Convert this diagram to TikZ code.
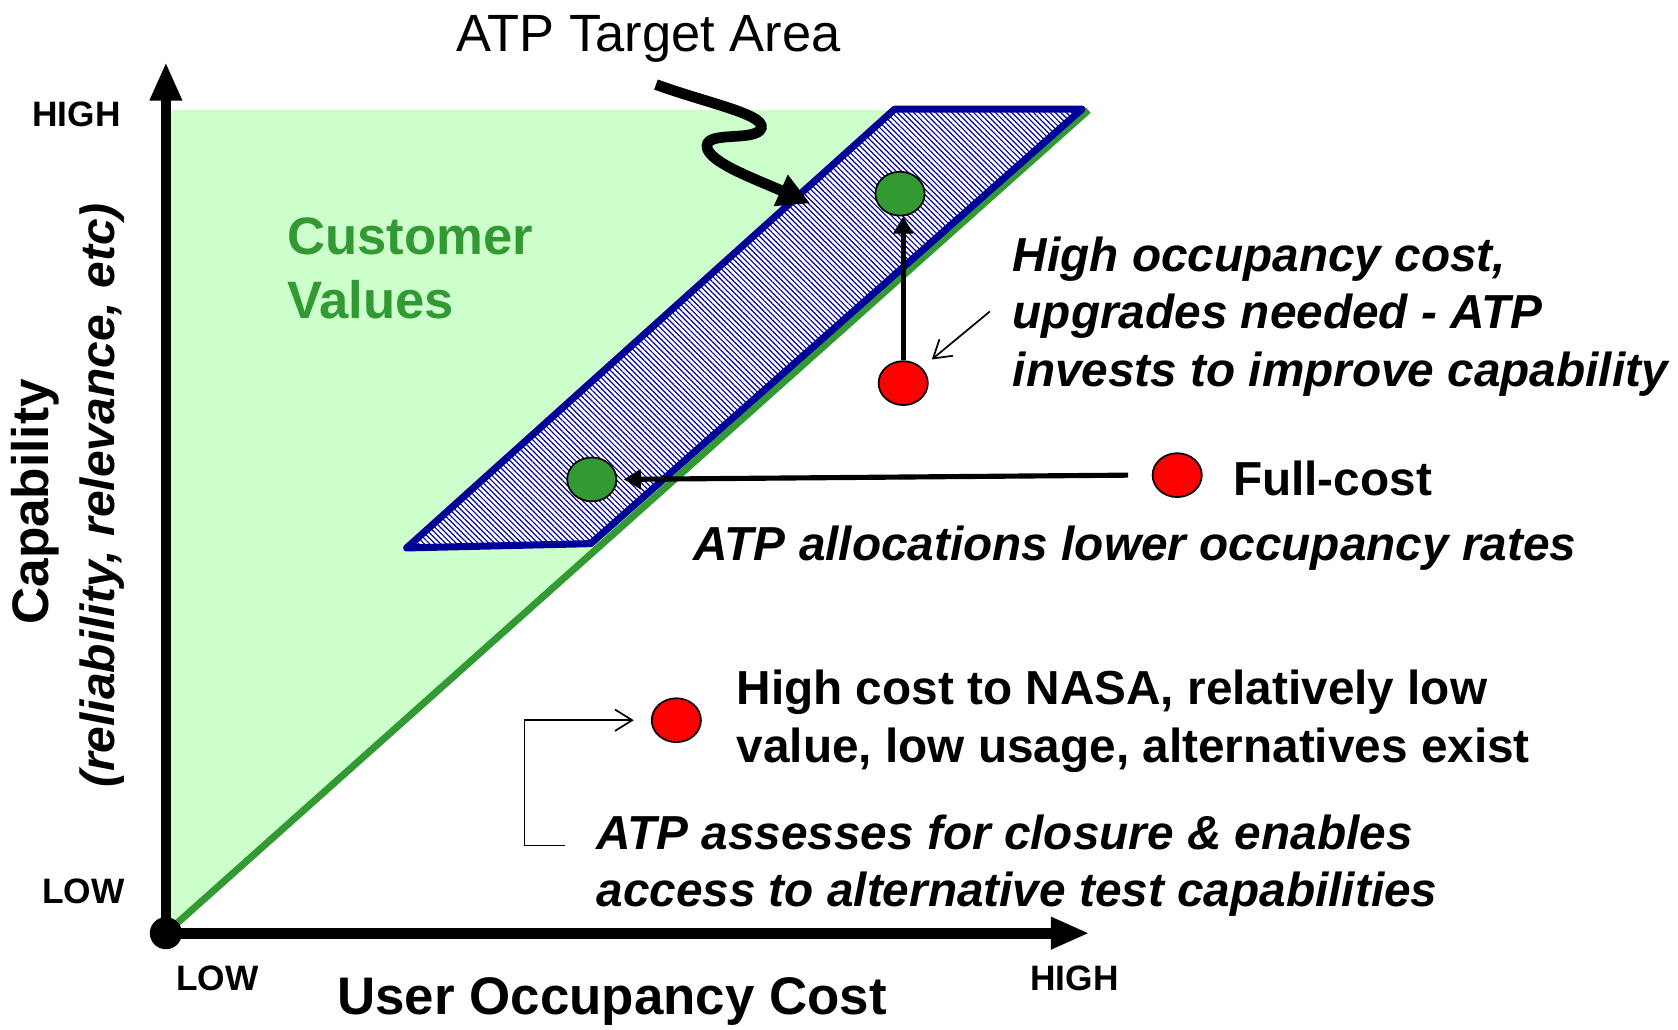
\documentclass[tikz,border=0pt]{standalone}
\usepackage{fontspec}
\setmainfont{Liberation Sans}
\usetikzlibrary{positioning,arrows.meta,shapes.geometric,patterns.meta}

\definecolor{valgreen}{HTML}{CCFFCC}
\definecolor{linegreen}{HTML}{339933}
\definecolor{atpblue}{HTML}{000099}

\begin{document}
\begin{tikzpicture}[x=0.5pt,y=-0.5pt,
  dot/.style={ellipse,draw=black,line width=0.8pt,minimum width=23pt,minimum height=20.5pt,inner sep=0pt},
  greendot/.style={dot,fill=linegreen},
  reddot/.style={dot,fill=red},
  axis/.style={line width=5pt,-{Triangle[length=18pt,width=14pt]}},
  bigarrow/.style={line width=2.4pt,-{Triangle[length=8pt,width=9pt]}},
  thinarrow/.style={line width=0.8pt,-{Straight Barb[length=8pt,width=10pt]}},
  axlbl/.style={inner sep=0pt,font=\fontsize{16.5}{20}\selectfont\bfseries},
  note/.style={inner sep=0pt,anchor=north west,align=left,font=\fontsize{22.3}{26.8}\selectfont\bfseries\itshape},
  plain/.style={inner sep=0pt,anchor=north west,align=left,font=\fontsize{22.3}{26.8}\selectfont\bfseries}]
  \useasboundingbox (0,0) rectangle (1568,962);
  \coordinate (O) at (155,872);
  \coordinate (ytip) at (155,58);
  \coordinate (xtip) at (1018,872);
  \coordinate (diag) at (1017,103);
  % customer values area and diagonal
  \fill[valgreen] (O) -- (155,103) -- (diag) -- cycle;
  \draw[linegreen,line width=3.3pt] (O) -- (diag);
  % ATP target area
  \draw[atpblue,line width=3.3pt,line join=round,preaction={fill=white},
    pattern={Lines[angle=-45,distance=1.8pt,line width=0.55pt]},pattern color=atpblue]
    (380,512) -- (552,508) -- (1011,102) -- (836,102) -- cycle;
  % axes
  \draw[axis] (O) -- (ytip);
  \draw[axis] (O) -- (xtip);
  \fill (O) circle (15);
  % dots
  \foreach \n/\x/\y in {g1/841/181, g2/553/448} {
    \node[greendot] (\n) at (\x,\y) {};
  }
  \foreach \n/\x/\y in {r1/844/358, r2/1100/444, r3/632/673} {
    \node[reddot] (\n) at (\x,\y) {};
  }
  \draw[bigarrow] (r1.north) -- (r1.north |- g1.south);
  \draw[bigarrow,shorten >=3pt] ([xshift=-11pt]r2.west) -- (g2.east);
  \coordinate (hoc) at (925,291);
  \draw[thinarrow,shorten >=6pt] (hoc) -- (r1);
  \coordinate (brk) at (528,790);
  \draw[thinarrow,shorten >=8pt] (brk) -- ++(-38,0) |- (r3.west);
  % ATP target area pointer
  \coordinate (sq) at (613,79);
  \coordinate (tgt) at (757,190);
  \draw[line width=5pt,-{Triangle[length=15pt,width=15pt]}]
    (sq) .. controls (662,97) and (722,108) .. (710,122)
    .. controls (700,132) and (656,122) .. (661,139)
    .. controls (666,153) and (705,167) .. (tgt);
  % labels
  \node[font=\fontsize{24.5}{28}\selectfont] (ttl) at (606,36) {ATP Target Area};
  \node[axlbl,anchor=east] (yhigh) at (113,107) {HIGH};
  \node[axlbl,anchor=east] (ylow) at (117,833) {LOW};
  \node[axlbl] (xlow) at (203,914) {LOW};
  \node[axlbl] (xhigh) at (1004,914) {HIGH};
  \node[font=\fontsize{24.7}{28}\selectfont\bfseries] (xlab) at (572,936) {User Occupancy Cost};
  \node[rotate=90,font=\fontsize{24}{28}\selectfont\bfseries] (ylab) at (33,469) {Capability};
  \node[rotate=90,font=\fontsize{22.4}{26}\selectfont\bfseries\itshape] (ysub) at (95,463) {(reliability, relevance, etc)};
  \node[plain,text=linegreen,font=\fontsize{24.6}{30}\selectfont\bfseries] (cv) at (268,203) {Customer\\Values};
  \node[note] (hoctxt) at (946,221) {High occupancy cost,\\upgrades needed - ATP\\invests to improve capability};
  \node[plain,anchor=west,right=14pt of r2,yshift=-1.5pt] (fc) {Full-cost};
  \node[note] (alloc) at (648,491) {ATP allocations lower occupancy rates};
  \node[plain] (nasa) at (688,626) {High cost to NASA, relatively low\\value, low usage, alternatives exist};
  \node[note] (clos) at (557,761) {ATP assesses for closure \& enables\\access to alternative test capabilities};
\end{tikzpicture}
\end{document}
